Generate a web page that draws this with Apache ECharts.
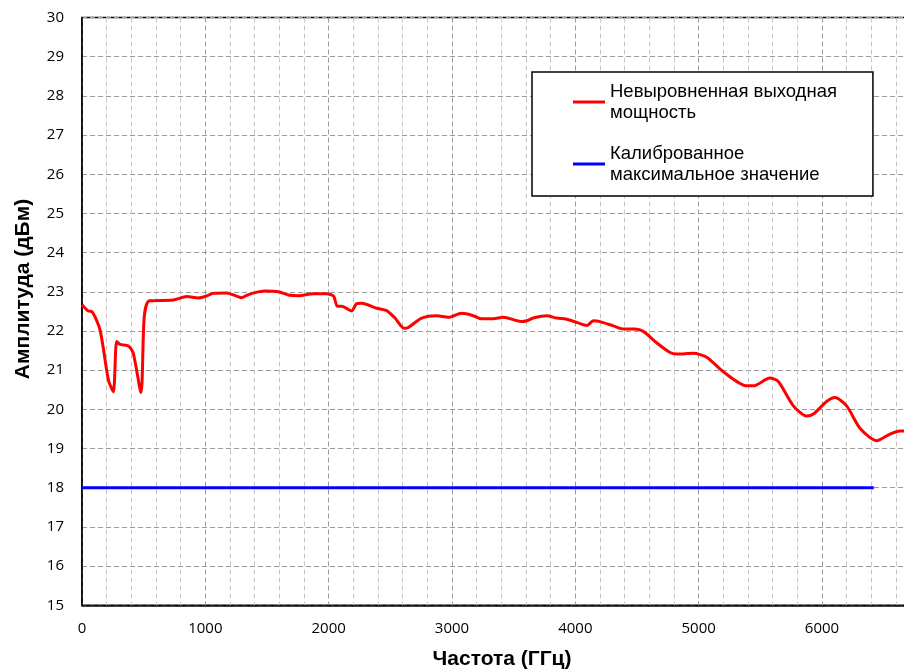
<!DOCTYPE html>
<html>
<head>
<meta charset="utf-8">
<script src="https://cdn.jsdelivr.net/npm/echarts@6/dist/echarts.min.js"></script>
<style>html,body{margin:0;padding:0;background:#fff;overflow:hidden;width:904px;height:671px}#c{width:950px;height:671px}</style>
</head>
<body>
<div id="c"></div>
<script>
var freqs = [0,51,78,146,214,254,281,308,376,416,478,505,546,741,849,943,997,1065,1173,1227,1295,1335,1403,1484,1592,1673,1754,1876,1984,2040,2070,2105,2186,2227,2268,2389,2470,2538,2611,2646,2754,2876,2970,3078,3173,3241,3335,3416,3565,3605,3659,3768,3849,3930,4011,4095,4146,4200,4308,4389,4484,4551,4659,4768,4822,4957,5065,5200,5389,5443,5578,5646,5768,5876,5930,6038,6105,6200,6308,6443,6551,6632,6700];
var powers = [22.67,22.51,22.50,22.03,20.75,20.45,21.73,21.66,21.62,21.43,20.43,22.37,22.77,22.79,22.88,22.84,22.88,22.96,22.97,22.92,22.85,22.91,22.98,23.02,23.00,22.92,22.90,22.95,22.95,22.89,22.63,22.63,22.51,22.70,22.71,22.58,22.52,22.33,22.07,22.09,22.33,22.39,22.35,22.45,22.39,22.31,22.31,22.35,22.24,22.26,22.33,22.39,22.33,22.30,22.22,22.14,22.26,22.24,22.13,22.05,22.05,21.99,21.70,21.45,21.41,21.43,21.33,20.96,20.60,20.60,20.80,20.71,20.09,19.83,19.88,20.20,20.30,20.09,19.52,19.20,19.37,19.45,19.45];
var calFreqs = [0, 6420];
var calValues = [18, 18];
var seriesNames = ['Невыровненная выходная\nмощность', 'Калиброванное\nмаксимальное значение'];
var xTitle = 'Частота (ГГц)';
var yTitle = 'Амплитуда (дБм)';

var redData = freqs.map(function (f, i) { return [f, powers[i]]; });
var blueData = calFreqs.map(function (f, i) { return [f, calValues[i]]; });

var chart = echarts.init(document.getElementById('c'), null, {renderer: 'canvas'});
chart.setOption({
  backgroundColor: '#fff',
  animation: false,
  grid: {left: 82, top: 17.5, width: 863.3, height: 587.8, outerBoundsMode: 'none', containLabel: false, show: true, borderColor: '#000', borderWidth: 1.5, backgroundColor: 'transparent'},
  xAxis: {
    type: 'value', min: 0, max: 7000, interval: 1000,
    axisLine: {show: true, lineStyle: {color: '#000', width: 1.5}},
    axisTick: {show: false},
    minorTick: {show: true, splitNumber: 5, length: 0, lineStyle: {color: 'transparent'}},
    minorSplitLine: {show: true, lineStyle: {color: '#c8c8c8', type: [5, 3], width: 1}},
    splitLine: {show: true, lineStyle: {color: '#9a9a9a', type: [5, 3], width: 1}},
    axisLabel: {color: '#000', fontSize: 15, fontFamily: 'Open Sans', margin: 16, formatter: function (v) { return String(v); }}
  },
  yAxis: {
    type: 'value', min: 15, max: 30, interval: 1,
    axisLine: {show: true, lineStyle: {color: '#000', width: 1.5}},
    axisTick: {show: false},
    splitLine: {show: true, lineStyle: {color: '#9a9a9a', type: [5, 3], width: 1}},
    axisLabel: {color: '#000', fontSize: 15, fontFamily: 'Open Sans', margin: 18, formatter: function (v) { return String(v); }}
  },
  legend: {
    orient: 'vertical', left: 532, top: 72,
    padding: [9, 36, 11, 41],
    itemWidth: 32, itemHeight: 3, itemGap: 20,
    icon: 'rect',
    borderColor: '#000', borderWidth: 1.5, backgroundColor: '#fff',
    textStyle: {color: '#000', fontSize: 18.5, lineHeight: 21, fontFamily: 'Liberation Sans'},
    data: seriesNames
  },
  graphic: [
    {type: 'text', x: 502, y: 659, style: {text: xTitle, font: 'bold 21px "Liberation Sans"', fill: '#000', align: 'center', verticalAlign: 'middle'}},
    {type: 'text', x: 23, y: 289, rotation: Math.PI / 2, style: {text: yTitle, font: 'bold 21px "Liberation Sans"', fill: '#000', align: 'center', verticalAlign: 'middle'}}
  ],
  series: [
    {name: seriesNames[0], type: 'line', data: redData, showSymbol: false, smooth: 0.25, lineStyle: {color: '#ff0000', width: 3}, itemStyle: {color: '#ff0000'}, z: 3},
    {name: seriesNames[1], type: 'line', data: blueData, showSymbol: false, lineStyle: {color: '#0000ff', width: 3}, itemStyle: {color: '#0000ff'}, z: 2}
  ]
});
</script>
</body>
</html>
